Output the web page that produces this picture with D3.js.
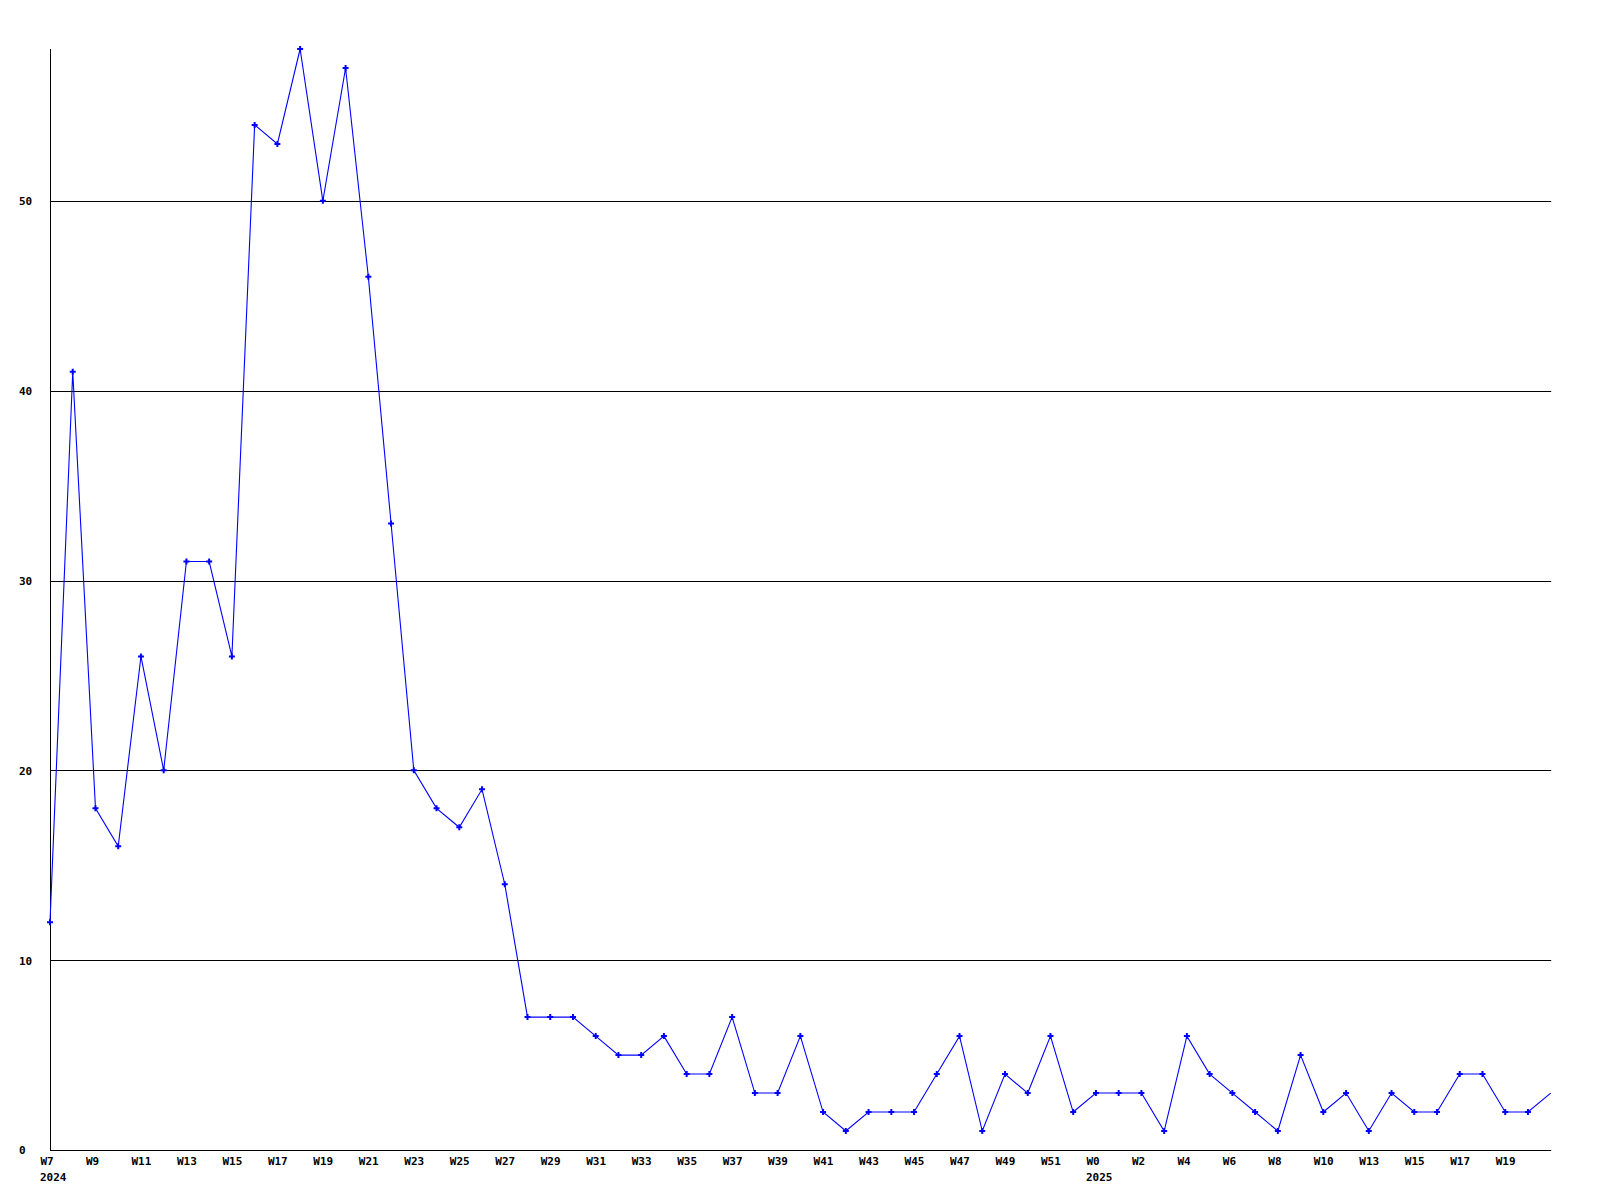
<!DOCTYPE html>
<html>
<head>
<meta charset="utf-8">
<script src="https://cdn.jsdelivr.net/npm/d3@7"></script>
<style>
  html, body { margin: 0; padding: 0; background: #ffffff; }
  svg { display: block; }
  text { font-family: "DejaVu Sans Mono", "Liberation Mono", monospace; font-weight: bold; font-size: 11px; fill: #000; }
</style>
</head>
<body>
<svg id="chart" width="1600" height="1200"></svg>
<script>
// Weekly categories (2024 W7 .. 2025 W21)
const weeks = [
  "2024-W7","2024-W8","2024-W9","2024-W10","2024-W11","2024-W12","2024-W13","2024-W14","2024-W15","2024-W16",
  "2024-W17","2024-W18","2024-W19","2024-W20","2024-W21","2024-W22","2024-W23","2024-W24","2024-W25","2024-W26",
  "2024-W27","2024-W28","2024-W29","2024-W30","2024-W31","2024-W32","2024-W33","2024-W34","2024-W35","2024-W36",
  "2024-W37","2024-W38","2024-W39","2024-W40","2024-W41","2024-W42","2024-W43","2024-W44","2024-W45","2024-W46",
  "2024-W47","2024-W48","2024-W49","2024-W50","2024-W51","2024-W52",
  "2025-W0","2025-W1","2025-W2","2025-W3","2025-W4","2025-W5","2025-W6","2025-W7","2025-W8","2025-W9",
  "2025-W10","2025-W12","2025-W13","2025-W14","2025-W15","2025-W16","2025-W17","2025-W18","2025-W19","2025-W20",
  "2025-W21"
];

// Series values
const values = [
  12, 41, 18, 16, 26, 20, 31, 31, 26, 54,
  53, 58, 50, 57, 46, 33, 20, 18, 17, 19,
  14, 7, 7, 7, 6, 5, 5, 6, 4, 4,
  7, 3, 3, 6, 2, 1, 2, 2, 2, 4,
  6, 1, 4, 3, 6, 2,
  3, 3, 3, 1, 6, 4, 3, 2, 1, 5,
  2, 3, 1, 3, 2, 2, 4, 4, 2, 2,
  3
];

// Tick labels shown on the x axis (every other week)
const tickWeeks = [
  "2024-W7","2024-W9","2024-W11","2024-W13","2024-W15","2024-W17","2024-W19","2024-W21","2024-W23","2024-W25",
  "2024-W27","2024-W29","2024-W31","2024-W33","2024-W35","2024-W37","2024-W39","2024-W41","2024-W43","2024-W45",
  "2024-W47","2024-W49","2024-W51",
  "2025-W0","2025-W2","2025-W4","2025-W6","2025-W8","2025-W10","2025-W13","2025-W15","2025-W17","2025-W19"
];
const tickLabels = [
  "W7","W9","W11","W13","W15","W17","W19","W21","W23","W25",
  "W27","W29","W31","W33","W35","W37","W39","W41","W43","W45",
  "W47","W49","W51",
  "W0","W2","W4","W6","W8","W10","W13","W15","W17","W19"
];
// Year labels placed under the first tick of each year
const yearTicks = ["2024-W7", "2025-W0"];
const yearLabels = ["2024", "2025"];

const yTicks = [0, 10, 20, 30, 40, 50];

(function () {
const svg = d3.select("#chart");
const mLeft = 50, mRight = 1550.7, mTop = 49, mBottom = 1150;

const x = d3.scalePoint().domain(weeks).range([mLeft, mRight]);
const y = d3.scaleLinear().domain([0, 58]).range([mBottom, mTop]);

// Grid lines
svg.append("g")
  .selectAll("line")
  .data(yTicks.filter(d => d > 0))
  .join("line")
  .attr("x1", mLeft).attr("x2", mRight + 0.5)
  .attr("y1", d => Math.round(y(d)) + 0.5).attr("y2", d => Math.round(y(d)) + 0.5)
  .attr("stroke", "#000").attr("stroke-width", 1);

// Y axis labels
const yAxis = d3.axisLeft(y).tickValues(yTicks).tickSize(0).tickFormat(d3.format("d"));
const gy = svg.append("g").attr("transform", `translate(${mLeft},0)`).call(yAxis);
gy.select(".domain").remove();
gy.selectAll("text")
  .attr("x", -31).attr("text-anchor", "start").attr("dy", "0.35em")
  .style("font-family", "'DejaVu Sans Mono', monospace").style("font-size", "11px").style("font-weight", "bold");

// Axis lines
svg.append("line")
  .attr("x1", mLeft + 0.5).attr("x2", mLeft + 0.5)
  .attr("y1", mTop).attr("y2", mBottom + 0.5)
  .attr("stroke", "#000").attr("stroke-width", 1);
svg.append("line")
  .attr("x1", mLeft).attr("x2", mRight + 0.5)
  .attr("y1", mBottom + 0.5).attr("y2", mBottom + 0.5)
  .attr("stroke", "#000").attr("stroke-width", 1);

// X axis labels
const labelMap = new Map(tickWeeks.map((w, i) => [w, tickLabels[i]]));
const xAxis = d3.axisBottom(x).tickValues(tickWeeks).tickSize(0).tickFormat(d => labelMap.get(d));
const gx = svg.append("g").attr("transform", `translate(0,${mBottom})`).call(xAxis);
gx.select(".domain").remove();
gx.selectAll("text")
  .attr("x", -10).attr("y", 15).attr("dy", 0).attr("text-anchor", "start")
  .style("font-family", "'DejaVu Sans Mono', monospace").style("font-size", "11px").style("font-weight", "bold");

// Year labels
svg.append("g")
  .selectAll("text")
  .data(yearTicks)
  .join("text")
  .attr("x", d => x(d) - 10)
  .attr("y", mBottom + 31)
  .text((d, i) => yearLabels[i]);

// Data line
const line = d3.line()
  .x((d, i) => x(weeks[i]))
  .y(d => y(d));
svg.append("path")
  .datum(values)
  .attr("d", line)
  .attr("fill", "none")
  .attr("stroke", "#0000ff")
  .attr("stroke-width", 1.1);

// Markers (last point has no marker in the reference)
svg.append("g")
  .selectAll("path")
  .data(values.slice(0, -1))
  .join("path")
  .attr("transform", (d, i) => `translate(${x(weeks[i])},${y(d)})`)
  .attr("d", "M-1,-3H1V-1H3V1H1V3H-1V1H-3V-1H-1Z")
  .attr("fill", "#0000ff");
})();
</script>
</body>
</html>
